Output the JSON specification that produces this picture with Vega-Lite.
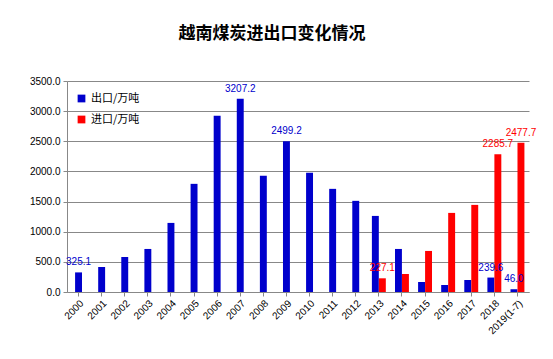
{
  "$schema": "https://vega.github.io/schema/vega-lite/v6.json",
  "width": 462,
  "height": 211,
  "autosize": {"type": "none"},
  "padding": {"left": 67, "top": 81, "right": 24, "bottom": 67},
  "background": "white",
  "config": {
    "view": {"stroke": null},
    "font": "Liberation Sans",
    "title": {"font": "Noto Sans CJK SC"}
  },
  "title": {
    "text": "越南煤炭进出口变化情况",
    "fontSize": 17,
    "fontWeight": "bold",
    "color": "#000000",
    "anchor": "middle",
    "offset": 33,
    "dx": -26
  },
  "data": {
    "values": [
      {"year": "2000", "type": "出口/万吨", "value": 325.1, "label": "325.1"},
      {"year": "2001", "type": "出口/万吨", "value": 415, "label": ""},
      {"year": "2002", "type": "出口/万吨", "value": 581, "label": ""},
      {"year": "2003", "type": "出口/万吨", "value": 714, "label": ""},
      {"year": "2004", "type": "出口/万吨", "value": 1146, "label": ""},
      {"year": "2005", "type": "出口/万吨", "value": 1794, "label": ""},
      {"year": "2006", "type": "出口/万吨", "value": 2923, "label": ""},
      {"year": "2007", "type": "出口/万吨", "value": 3207.2, "label": "3207.2"},
      {"year": "2008", "type": "出口/万吨", "value": 1927, "label": ""},
      {"year": "2009", "type": "出口/万吨", "value": 2499.2, "label": "2499.2"},
      {"year": "2010", "type": "出口/万吨", "value": 1977, "label": ""},
      {"year": "2011", "type": "出口/万吨", "value": 1711, "label": ""},
      {"year": "2012", "type": "出口/万吨", "value": 1512, "label": ""},
      {"year": "2013", "type": "出口/万吨", "value": 1262, "label": ""},
      {"year": "2014", "type": "出口/万吨", "value": 714, "label": ""},
      {"year": "2015", "type": "出口/万吨", "value": 166, "label": ""},
      {"year": "2016", "type": "出口/万吨", "value": 116, "label": ""},
      {"year": "2017", "type": "出口/万吨", "value": 199, "label": ""},
      {"year": "2018", "type": "出口/万吨", "value": 239.6, "label": "239.6"},
      {"year": "2019(1-7)", "type": "出口/万吨", "value": 46.0, "label": "46.0"},
      {"year": "2013", "type": "进口/万吨", "value": 227.1, "label": "227.1"},
      {"year": "2014", "type": "进口/万吨", "value": 299, "label": ""},
      {"year": "2015", "type": "进口/万吨", "value": 681, "label": ""},
      {"year": "2016", "type": "进口/万吨", "value": 1312, "label": ""},
      {"year": "2017", "type": "进口/万吨", "value": 1445, "label": ""},
      {"year": "2018", "type": "进口/万吨", "value": 2285.7, "label": "2285.7"},
      {"year": "2019(1-7)", "type": "进口/万吨", "value": 2477.7, "label": "2477.7"}
    ]
  },
  "encoding": {
    "x": {
      "field": "year",
      "type": "ordinal",
      "sort": null,
      "scale": {"paddingInner": 0, "paddingOuter": 0},
      "axis": {
        "title": null,
        "labelAngle": -45,
        "labelFontSize": 10,
        "labelColor": "#000000",
        "domainColor": "#888888",
        "tickColor": "#888888",
        "tickSize": 4,
        "labelPadding": 2
      }
    },
    "y": {
      "field": "value",
      "type": "quantitative",
      "scale": {"domain": [0, 3500]},
      "axis": {
        "title": null,
        "values": [0, 500, 1000, 1500, 2000, 2500, 3000, 3500],
        "format": ".1f",
        "labelFontSize": 10,
        "labelColor": "#000000",
        "gridColor": "#888888",
        "gridOpacity": 1,
        "domainColor": "#888888",
        "tickColor": "#888888",
        "tickSize": 4,
        "labelPadding": 3
      }
    }
  },
  "layer": [
    {
      "transform": [{"filter": "datum.type == '出口/万吨' && datum.year < '2013'"}],
      "mark": {"type": "bar", "width": {"band": 0.3}},
      "encoding": {
        "color": {
          "field": "type",
          "type": "nominal",
          "scale": {"domain": ["出口/万吨", "进口/万吨"], "range": ["#0000CC", "#FF0000"]},
          "legend": {
            "title": null,
            "orient": "none",
            "legendX": 9,
            "legendY": 12,
            "symbolType": "square",
            "symbolSize": 60,
            "labelFontSize": 11,
            "labelFont": "Noto Sans CJK SC",
            "rowPadding": 9,
            "symbolStrokeWidth": 0
          }
        }
      }
    },
    {
      "transform": [{"filter": "datum.type == '出口/万吨' && datum.year >= '2013'"}],
      "mark": {"type": "bar", "width": {"band": 0.3}, "xOffset": -3.5},
      "encoding": {"color": {"field": "type", "type": "nominal"}}
    },
    {
      "transform": [{"filter": "datum.type == '进口/万吨'"}],
      "mark": {"type": "bar", "width": {"band": 0.3}, "xOffset": 3.5},
      "encoding": {"color": {"field": "type", "type": "nominal"}}
    },
    {
      "transform": [{"filter": "datum.type == '出口/万吨' && datum.year < '2013'"}],
      "mark": {"type": "text", "color": "#0000CC", "fontSize": 10, "baseline": "bottom", "dy": -5},
      "encoding": {"text": {"field": "label"}}
    },
    {
      "transform": [{"filter": "datum.type == '出口/万吨' && datum.year >= '2013'"}],
      "mark": {"type": "text", "color": "#0000CC", "fontSize": 10, "baseline": "bottom", "dy": -5, "xOffset": -3.5},
      "encoding": {"text": {"field": "label"}}
    },
    {
      "transform": [{"filter": "datum.type == '进口/万吨'"}],
      "mark": {"type": "text", "color": "#FF0000", "fontSize": 10, "baseline": "bottom", "dy": -5, "xOffset": 3.5},
      "encoding": {"text": {"field": "label"}}
    }
  ]
}
